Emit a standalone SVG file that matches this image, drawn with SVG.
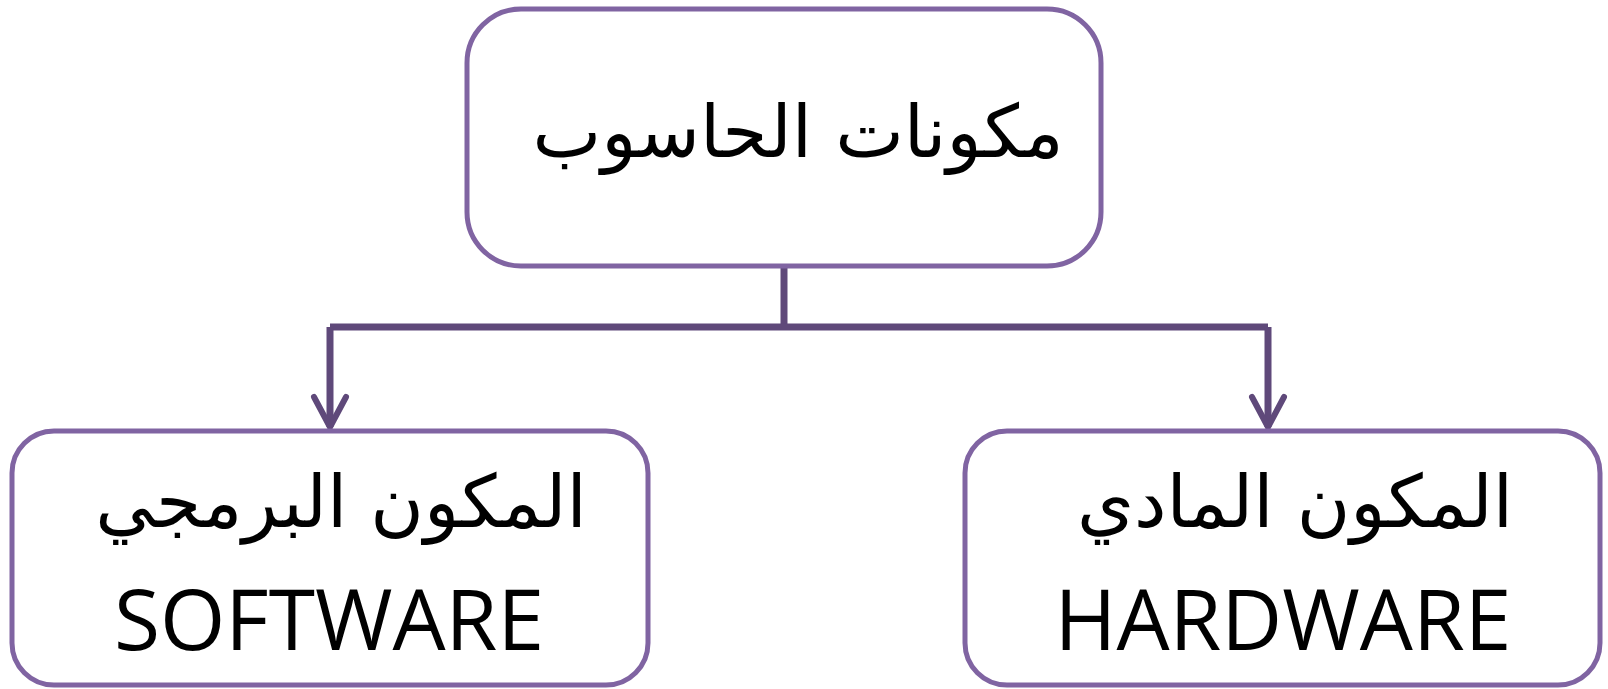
<svg xmlns="http://www.w3.org/2000/svg" width="1608" height="689" viewBox="0 0 1608 689">
<style>
.box{fill:#ffffff;stroke:#8064A2;stroke-width:5}
.conn{fill:none;stroke:#5F497A;stroke-width:7}
.ar{font-family:"DejaVu Sans",sans-serif;font-size:73px;fill:#000;text-anchor:middle}
.en{font-family:"Open Sans","Liberation Sans",sans-serif;font-size:84px;fill:#000;text-anchor:middle}
</style>
<defs>
<marker id="arrow" markerUnits="userSpaceOnUse" markerWidth="48" markerHeight="48" viewBox="-40 -24 48 48" refX="0" refY="0" orient="auto">
<path d="M-30,-16 L0,0 L-30,16" fill="none" stroke="#5F497A" stroke-width="6" stroke-linecap="round" stroke-linejoin="miter"/>
</marker>
</defs>
<g id="connectors">
<path class="conn" d="M784,266 V327"/>
<path class="conn" d="M330,327 H1268"/>
<path class="conn" d="M330,327 V427" marker-end="url(#arrow)"/>
<path class="conn" d="M1268,327 V427" marker-end="url(#arrow)"/>
</g>
<g id="node-root">
<rect class="box" x="467" y="9" width="634" height="257" rx="54" ry="54"/>
<text class="ar" x="798" y="157">مكونات الحاسوب</text>
</g>
<g id="node-software">
<rect class="box" x="12" y="431" width="636" height="254" rx="42" ry="42"/>
<text class="ar" x="341" y="527">المكون البرمجي</text>
<text class="en" x="329" y="650">SOFTWARE</text>
</g>
<g id="node-hardware">
<rect class="box" x="965" y="431" width="635" height="254" rx="42" ry="42"/>
<text class="ar" x="1295" y="527">المكون المادي</text>
<text class="en" x="1283" y="650">HARDWARE</text>
</g>
</svg>
